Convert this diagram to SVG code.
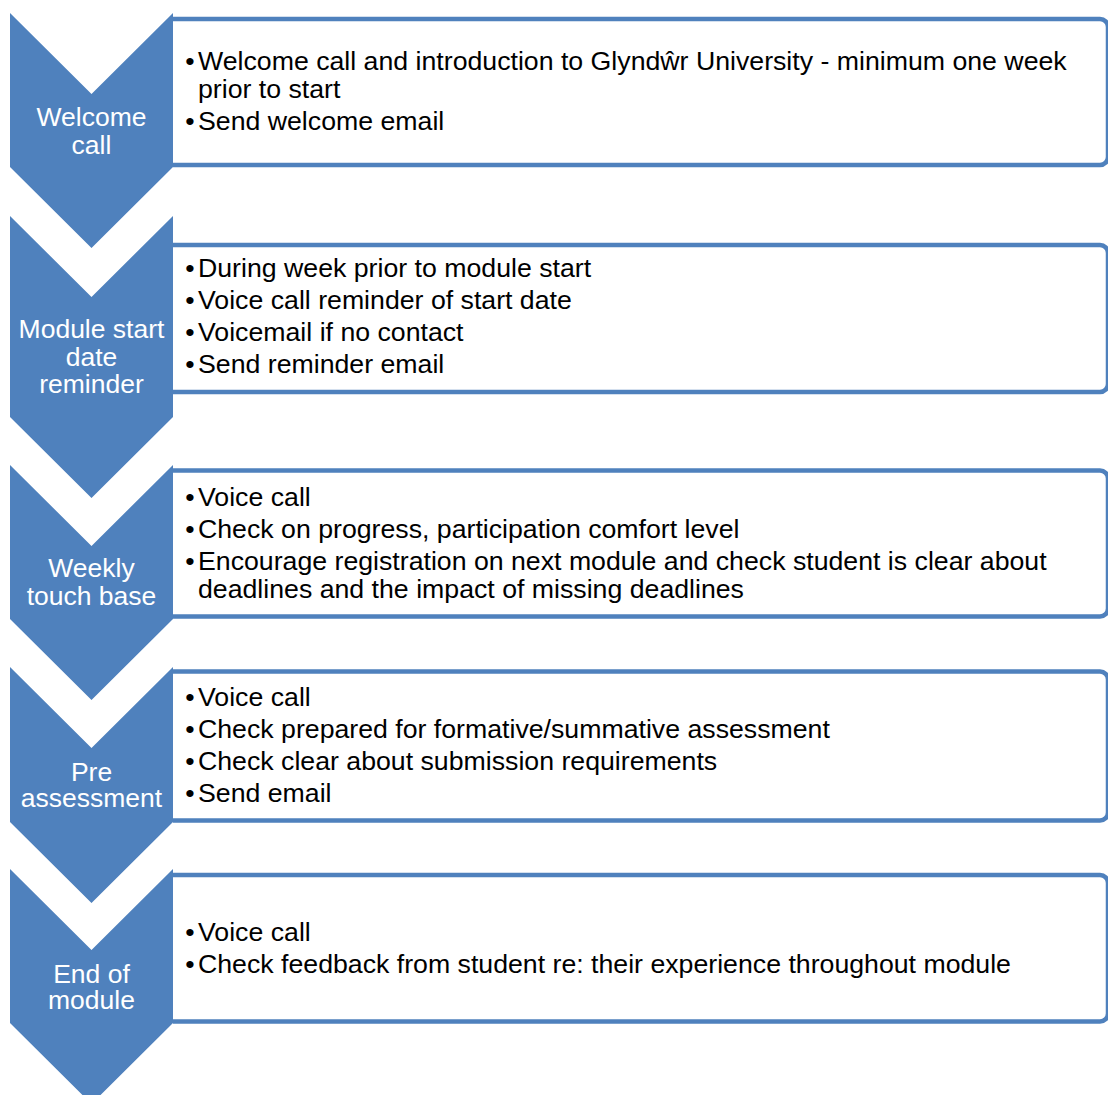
<svg xmlns="http://www.w3.org/2000/svg" width="1108" height="1095" viewBox="0 0 1108 1095">
<style>
.chev{fill:#4F81BD;}
.box{fill:#FFFFFF;stroke:#4F81BD;stroke-width:4.5;}
.ct{font-family:"Liberation Sans",Arial,sans-serif;font-size:26.5px;fill:#FFFFFF;text-anchor:middle;}
.bt{font-family:"Liberation Sans",Arial,sans-serif;font-size:26.7px;fill:#000000;}
.bu{font-family:"Liberation Sans",Arial,sans-serif;font-size:26.7px;fill:#000000;text-anchor:middle;}
</style>
<rect width="1108" height="1095" fill="#FFFFFF"/>
<g id="connectors"/>
<g id="step1">
<path class="box" d="M173,19 H1100 A8,8 0 0 1 1108,27 V157 A8,8 0 0 1 1100,165 H173"/>
<polygon class="chev" points="10,13 91.5,94 173,13 173,167 91.5,248 10,167"/>
<text class="ct" x="91.5" y="126">Welcome</text>
<text class="ct" x="91.5" y="154">call</text>
<text class="bu" x="190" y="70">•</text>
<text class="bt" x="198" y="70">Welcome call and introduction to Glyndŵr University - minimum one week</text>
<text class="bt" x="198" y="98">prior to start</text>
<text class="bu" x="190" y="130">•</text>
<text class="bt" x="198" y="130">Send welcome email</text>
</g>
<g id="step2">
<path class="box" d="M173,245 H1100 A8,8 0 0 1 1108,253 V384 A8,8 0 0 1 1100,392 H173"/>
<polygon class="chev" points="10,216 91.5,297 173,216 173,417 91.5,498 10,417"/>
<text class="ct" x="91.5" y="338">Module start</text>
<text class="ct" x="91.5" y="366">date</text>
<text class="ct" x="91.5" y="393">reminder</text>
<text class="bu" x="190" y="277">•</text>
<text class="bt" x="198" y="277">During week prior to module start</text>
<text class="bu" x="190" y="309">•</text>
<text class="bt" x="198" y="309">Voice call reminder of start date</text>
<text class="bu" x="190" y="341">•</text>
<text class="bt" x="198" y="341">Voicemail if no contact</text>
<text class="bu" x="190" y="373">•</text>
<text class="bt" x="198" y="373">Send reminder email</text>
</g>
<g id="step3">
<path class="box" d="M173,470.5 H1100 A8,8 0 0 1 1108,478.5 V608.5 A8,8 0 0 1 1100,616.5 H173"/>
<polygon class="chev" points="10,465 91.5,546 173,465 173,619 91.5,700 10,619"/>
<text class="ct" x="91.5" y="577">Weekly</text>
<text class="ct" x="91.5" y="605">touch base</text>
<text class="bu" x="190" y="506">•</text>
<text class="bt" x="198" y="506">Voice call</text>
<text class="bu" x="190" y="538">•</text>
<text class="bt" x="198" y="538">Check on progress, participation comfort level</text>
<text class="bu" x="190" y="570">•</text>
<text class="bt" x="198" y="570">Encourage registration on next module and check student is clear about</text>
<text class="bt" x="198" y="598">deadlines and the impact of missing deadlines</text>
</g>
<g id="step4">
<path class="box" d="M173,671.5 H1100 A8,8 0 0 1 1108,679.5 V812.5 A8,8 0 0 1 1100,820.5 H173"/>
<polygon class="chev" points="10,667 91.5,748 173,667 173,822 91.5,903 10,822"/>
<text class="ct" x="91.5" y="781">Pre</text>
<text class="ct" x="91.5" y="807">assessment</text>
<text class="bu" x="190" y="706">•</text>
<text class="bt" x="198" y="706">Voice call</text>
<text class="bu" x="190" y="738">•</text>
<text class="bt" x="198" y="738">Check prepared for formative/summative assessment</text>
<text class="bu" x="190" y="770">•</text>
<text class="bt" x="198" y="770">Check clear about submission requirements</text>
<text class="bu" x="190" y="802">•</text>
<text class="bt" x="198" y="802">Send email</text>
</g>
<g id="step5">
<path class="box" d="M173,875 H1100 A8,8 0 0 1 1108,883 V1013.5 A8,8 0 0 1 1100,1021.5 H173"/>
<polygon class="chev" points="10,869 91.5,950 173,869 173,1023 91.5,1104 10,1023"/>
<text class="ct" x="91.5" y="983">End of</text>
<text class="ct" x="91.5" y="1009">module</text>
<text class="bu" x="190" y="941">•</text>
<text class="bt" x="198" y="941">Voice call</text>
<text class="bu" x="190" y="973">•</text>
<text class="bt" x="198" y="973">Check feedback from student re: their experience throughout module</text>
</g>
</svg>
